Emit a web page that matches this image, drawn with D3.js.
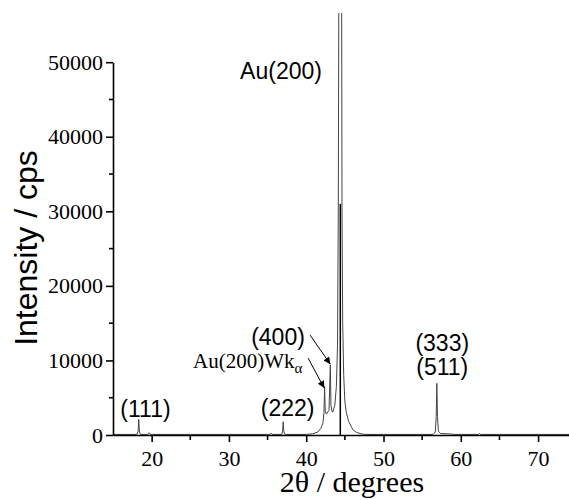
<!DOCTYPE html>
<html>
<head>
<meta charset="utf-8">
<script src="https://cdn.jsdelivr.net/npm/d3@7"></script>
<style>
  body { margin: 0; background: #fff; }
  .tick text { font-family: "Liberation Serif", "Times New Roman", serif; font-size: 22px; fill: #000; }
  .domain, .tick line { stroke: #000; stroke-width: 1.6px; }
  .peak-label { font-family: "Liberation Sans", Arial, sans-serif; font-size: 23px; fill: #000; }
  .serif-label { font-family: "Liberation Serif", "Times New Roman", serif; fill: #000; }
</style>
</head>
<body>
<div id="chart"></div>
<script>
// XRD pattern
const twoTheta = [15.0, 18.1, 18.25, 18.33, 18.42, 18.55, 19.55, 19.7, 19.85, 35.3, 35.45, 35.6,
	36.85, 36.95, 37.02, 37.1, 37.22, 40.0, 40.8, 41.5, 41.9, 42.16, 42.3, 42.38, 42.46, 42.6,
	42.7, 42.95, 43.05, 43.12, 43.2, 43.35, 43.45, 43.7, 43.9, 44.05, 44.15, 44.22, 44.58, 44.63,
	44.72, 44.85, 45.0, 45.19, 45.5, 45.8, 46.04, 46.5, 47.13, 47.6, 56.4, 56.7, 56.82, 56.9,
	56.98, 57.1, 57.4, 58.5, 59.2, 62.3, 62.42, 62.55, 74.0];
const intensity = [80, 80, 500, 2100, 400, 80, 80, 300, 80, 80, 250, 80,
	80, 600, 1780, 500, 80, 80, 150, 400, 900, 1600, 3000, 6470, 3200, 2800,
	2950, 3300, 7000, 9380, 4000, 3100, 3100, 4000, 6500, 12000, 30000, 60000, 60000, 30000,
	15000, 8000, 4500, 3000, 1800, 1200, 700, 350, 150, 80, 80, 400, 2500, 6930,
	2500, 500, 200, 150, 80, 80, 200, 80, 80];

// dark marker line under the main reflection
const stickX = [44.41];
const stickTop = [31000];

const xTicks = [20, 30, 40, 50, 60, 70];
const xMinor = [25, 35, 45, 55, 65];
const yTicks = [0, 10000, 20000, 30000, 40000, 50000];
const yMinor = [5000, 15000, 25000, 35000, 45000];

// reflection labels: [text, 2θ, intensity of the baseline]
const peakLabels = [
	["(111)", 19.2, 2400],
	["(222)", 37.6, 2600],
	["(400)", 36.35, 12070],
	["(333)", 57.6, 11300],
	["(511)", 57.6, 8000],
	["Au(200)", 36.74, 47700],
];

// arrows: [from 2θ, from I, to 2θ, to I]
const arrows = [
	[40.5, 13400, 43.12, 9500],
	[40.25, 10300, 42.33, 6300],
];

const width = 569;
const height = 500;
const margin = {top: 10, right: 0, bottom: 65, left: 113};

const svg = d3.select("#chart")
	.append("svg")
	.attr("width", width)
	.attr("height", height);

const x = d3.scaleLinear().domain([15, 74]).range([margin.left, width - margin.right]);
const y = d3.scaleLinear().domain([0, 57000]).range([height - margin.bottom, margin.top]);
const yAxisScale = y.copy().domain([0, 50000]).range([y(0), y(50000)]);

svg.append("clipPath")
	.attr("id", "plot-clip")
	.append("rect")
	.attr("x", margin.left)
	.attr("y", 13)
	.attr("width", width - margin.left)
	.attr("height", y(0) - 13);

const data = twoTheta.map((t, i) => [t, intensity[i]]);

const line = d3.line()
	.x((d) => x(d[0]))
	.y((d) => y(d[1]));

const plot = svg.append("g").attr("clip-path", "url(#plot-clip)");

plot.append("path")
	.datum(data)
	.attr("fill", "none")
	.attr("stroke", "#444")
	.attr("stroke-width", 1)
	.attr("d", line);

plot.selectAll(".stick")
	.data(stickX)
	.enter()
	.append("line")
	.attr("x1", (d) => x(d))
	.attr("x2", (d) => x(d))
	.attr("y1", y(0))
	.attr("y2", (d, i) => y(stickTop[i]))
	.attr("stroke", "#000")
	.attr("stroke-width", 1.5);

// axes
svg.append("g")
	.attr("transform", `translate(0,${y(0)})`)
	.call(d3.axisBottom(x).tickValues(xTicks).tickSize(7).tickSizeOuter(0).tickPadding(8).tickFormat(d3.format("d")));

svg.append("g")
	.selectAll("line")
	.data(xMinor)
	.enter()
	.append("line")
	.attr("x1", (d) => x(d))
	.attr("x2", (d) => x(d))
	.attr("y1", y(0))
	.attr("y2", y(0) + 5)
	.attr("stroke", "#000")
	.attr("stroke-width", 1.6);

svg.append("g")
	.attr("transform", `translate(${margin.left},0)`)
	.call(d3.axisLeft(yAxisScale).tickValues(yTicks).tickSize(7).tickSizeOuter(0).tickPadding(3).tickFormat(d3.format("d")));

svg.append("g")
	.selectAll("line")
	.data(yMinor)
	.enter()
	.append("line")
	.attr("x1", margin.left - 4)
	.attr("x2", margin.left)
	.attr("y1", (d) => y(d))
	.attr("y2", (d) => y(d))
	.attr("stroke", "#000")
	.attr("stroke-width", 1.6);

// axis titles
svg.append("text")
	.attr("class", "serif-label")
	.attr("x", 352)
	.attr("y", 492)
	.attr("text-anchor", "middle")
	.style("font-size", "30px")
	.text("2θ / degrees");

svg.append("text")
	.attr("transform", "translate(37,248) rotate(-90)")
	.attr("text-anchor", "middle")
	.style("font-family", "\"Liberation Sans\", Arial, sans-serif")
	.style("font-size", "32px")
	.text("Intensity / cps");

// reflection labels
svg.selectAll(".peak-label")
	.data(peakLabels)
	.enter()
	.append("text")
	.attr("class", "peak-label")
	.attr("x", (d) => x(d[1]))
	.attr("y", (d) => y(d[2]))
	.attr("text-anchor", "middle")
	.text((d) => d[0]);

const wk = svg.append("text")
	.attr("class", "serif-label")
	.attr("x", x(39.5))
	.attr("y", y(9000))
	.attr("text-anchor", "end")
	.style("font-size", "21px");
wk.append("tspan").text("Au(200)Wk");
wk.append("tspan").attr("dy", 5).style("font-size", "15px").text("α");

// arrows
svg.append("defs")
	.append("marker")
	.attr("id", "arrowhead")
	.attr("viewBox", "0 0 10 10")
	.attr("refX", 10)
	.attr("refY", 5)
	.attr("markerWidth", 9)
	.attr("markerHeight", 7)
	.attr("markerUnits", "userSpaceOnUse")
	.attr("orient", "auto")
	.append("path")
	.attr("d", "M0,0L10,5L0,10z")
	.attr("fill", "#000");

svg.selectAll(".arrow")
	.data(arrows)
	.enter()
	.append("line")
	.attr("class", "arrow")
	.attr("x1", (d) => x(d[0]))
	.attr("y1", (d) => y(d[1]))
	.attr("x2", (d) => x(d[2]))
	.attr("y2", (d) => y(d[3]))
	.attr("stroke", "#000")
	.attr("stroke-width", 1)
	.attr("marker-end", "url(#arrowhead)");
</script>
</body>
</html>
